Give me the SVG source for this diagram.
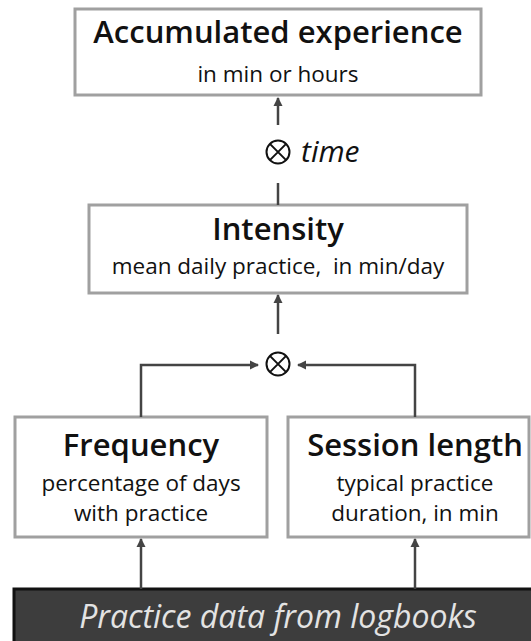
<svg xmlns="http://www.w3.org/2000/svg" width="531" height="641" viewBox="0 0 531 641">
<style>
.box{fill:#fff;stroke:#a0a0a0;stroke-width:3}
.t{font-family:"Open Sans","Liberation Sans",sans-serif;fill:#111;text-anchor:middle}
.b{font-weight:600;font-size:31px}
.s{font-size:22.5px}
.c{fill:none;stroke:#444;stroke-width:2.5}
.op{fill:none;stroke:#111;stroke-width:2}
</style>
<defs>
<marker id="ah" markerWidth="10" markerHeight="10" refX="8" refY="5" orient="auto" markerUnits="userSpaceOnUse">
<path d="M0,0.5 L9,5 L0,9.5 Z" fill="#444"/>
</marker>
</defs>
<rect width="531" height="641" fill="#fff"/>
<g id="accumulated">
<rect class="box" x="75" y="9" width="406" height="86"/>
<text class="t b" x="278" y="43">Accumulated experience</text>
<text class="t s" x="278" y="82">in min or hours</text>
</g>
<g id="intensity">
<rect class="box" x="89" y="205" width="378" height="88"/>
<text class="t b" x="278" y="240">Intensity</text>
<text class="t s" x="278" y="274" xml:space="preserve">mean daily practice,  in min/day</text>
</g>
<g id="frequency">
<rect class="box" x="15" y="417" width="252" height="120"/>
<text class="t b" x="141" y="456">Frequency</text>
<text class="t s" x="141" y="491">percentage of days</text>
<text class="t s" x="141" y="521">with practice</text>
</g>
<g id="session">
<rect class="box" x="288" y="417" width="241" height="120"/>
<text class="t b" x="415" y="456">Session length</text>
<text class="t s" x="415" y="491">typical practice</text>
<text class="t s" x="415" y="521">duration, in min</text>
</g>
<g id="logbooks">
<rect x="14" y="589" width="530" height="70" fill="#3d3d3d" stroke="#111" stroke-width="3"/>
<text class="t" x="278" y="628" style="fill:#e3e3e3;font-size:32px;font-style:italic">Practice data from logbooks</text>
</g>
<g id="op-time">
<circle class="op" cx="278" cy="152" r="11.5"/>
<path class="op" d="M269.9,143.9 L286.1,160.1 M286.1,143.9 L269.9,160.1"/>
<text x="301" y="162" style="font-family:'Open Sans','Liberation Sans',sans-serif;font-style:italic;font-size:30px;fill:#111">time</text>
</g>
<g id="op-mult">
<circle class="op" cx="278" cy="364" r="11.5"/>
<path class="op" d="M269.9,355.9 L286.1,372.1 M286.1,355.9 L269.9,372.1"/>
</g>
<g id="connectors">
<path class="c" d="M278,125 L278,98" marker-end="url(#ah)"/>
<path class="c" d="M278,183 L278,205"/>
<path class="c" d="M278,334 L278,295" marker-end="url(#ah)"/>
<path class="c" d="M141,417 L141,365 L258,365" marker-end="url(#ah)"/>
<path class="c" d="M415,417 L415,365 L298,365" marker-end="url(#ah)"/>
<path class="c" d="M141,589 L141,539" marker-end="url(#ah)"/>
<path class="c" d="M415,589 L415,539" marker-end="url(#ah)"/>
</g>
</svg>
